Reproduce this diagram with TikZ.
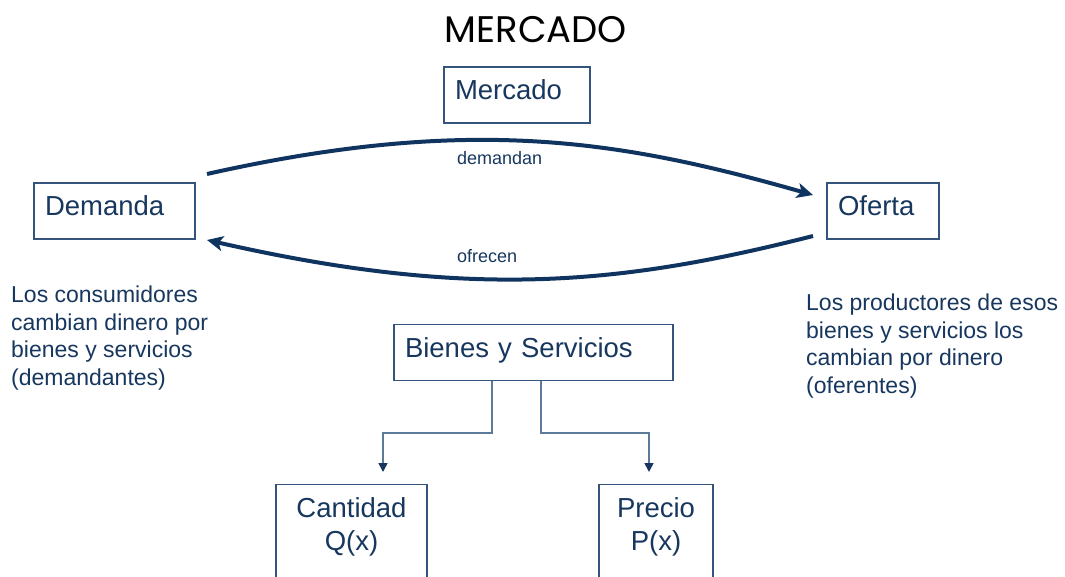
\documentclass[tikz,border=0pt]{standalone}
\usepackage{fontspec}
\setmainfont{Liberation Sans}
\newfontfamily\titlefont{Poppins}
\usetikzlibrary{arrows.meta}
\definecolor{navy}{RGB}{23,55,94}
\definecolor{boxline}{RGB}{52,84,124}
\definecolor{treeline}{RGB}{92,122,154}
\definecolor{curve}{RGB}{16,52,96}
\tikzset{
    box/.style={rectangle, draw=boxline, line width=1.1pt, text=navy, inner xsep=11pt, inner ysep=0pt,
        text height=33pt, text depth=23pt, align=left, font=\fontsize{27.5}{33}\selectfont},
    lowbox/.style={rectangle, draw=boxline, line width=1.1pt, text=navy, inner xsep=0pt, inner ysep=13pt,
        text depth=80pt, align=center, anchor=north, font=\fontsize{27.5}{33}\selectfont},
    note/.style={text=navy, inner sep=0pt, align=left, anchor=north west, font=\fontsize{23}{27.7}\selectfont},
    lbl/.style={text=navy, inner sep=0pt, anchor=base west, font=\fontsize{18}{22}\selectfont},
    flow/.style={draw=curve, line width=4pt, -{Stealth[length=16pt,width=15pt,inset=4pt]}},
    branch/.style={draw=treeline, line width=1.5pt, -{Triangle[length=9pt,width=9pt,color=navy]}}
}

\begin{document}
\begin{tikzpicture}[x=1pt, y=-1pt]
    \useasboundingbox (0,0) rectangle (1065,577);
    \clip (0,0) rectangle (1065,577);

    \node (title) [text=black, inner sep=0pt, font=\titlefont\fontsize{37}{40}\selectfont] at (536,30) {MERCADO};

    \node (mer) [box, text width=124pt] at (517,95) {Mercado};
    \node (dem) [box, text width=139pt] at (114.5,211) {Demanda};
    \node (ofe) [box, text width=90pt] at (883,211) {Oferta};
    \node (bys) [box, text width=257pt] at (533.5,352.5) {Bienes y Servicios};

    \node (cant) [lowbox, text width=151pt] at (351.5,484) {Cantidad\\Q(x)};
    \node (prec) [lowbox, text width=114pt] at (656,484) {Precio\\P(x)};

    \node (lbdem) [lbl] at (457,165) {demandan};
    \node (lbofr) [lbl] at (457,262) {ofrecen};

    \node (consum) [note] at (11,285.5) {Los consumidores\\cambian dinero por\\bienes y servicios\\(demandantes)};
    \node (produc) [note] at (806,293.5) {Los productores de esos\\bienes y servicios los\\cambian por dinero\\(oferentes)};

    % free ends of the connectors
    \coordinate (dout) at (207,174);
    \coordinate (oin) at (813,195);
    \coordinate (oout) at (813,236);
    \coordinate (din) at (207,240);
    \coordinate (qtip) at (383,472);
    \coordinate (ptip) at (649,472);

    \draw[flow] (dout) .. controls (470,115) and (620,140) .. (oin);
    \draw[flow] (oout) .. controls (620,285) and (470,300) .. (din);

    \draw[branch] ([xshift=-41.5pt]bys.south) -- ++(0,52) -| (qtip);
    \draw[branch] ([xshift=7.5pt]bys.south) -- ++(0,52) -| (ptip);
\end{tikzpicture}
\end{document}
